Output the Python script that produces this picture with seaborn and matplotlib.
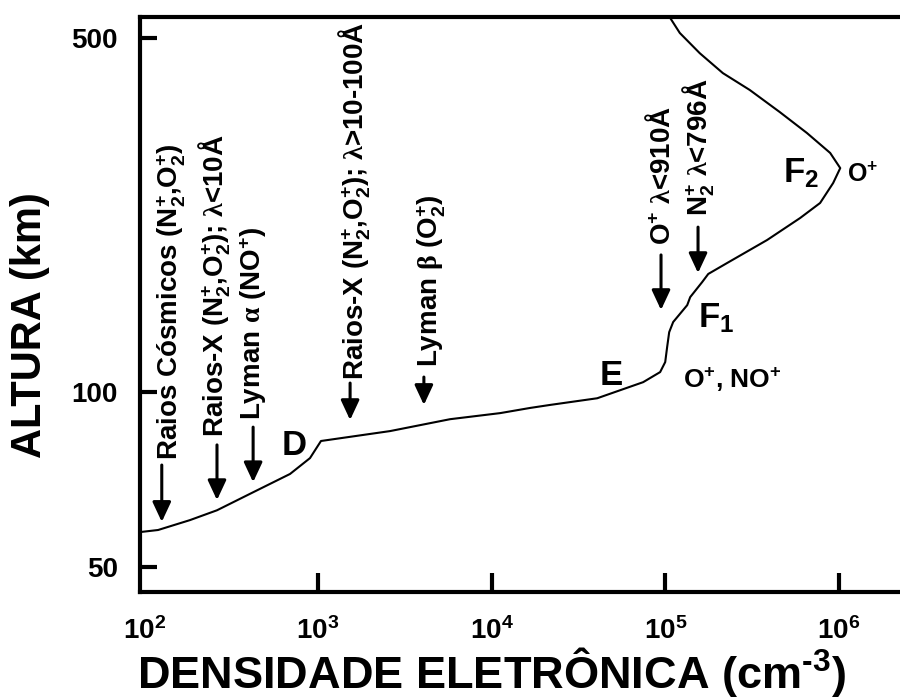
import numpy as np
import matplotlib
matplotlib.use("Agg")
import matplotlib.pyplot as plt
import seaborn as sns

# ---------------- data ----------------
density = [97, 120, 183, 262, 423, 690, 899, 1040, 2600, 5760, 11200, 16630,
           21700, 40500, 74500, 93300, 99800, 102400, 105200, 110900, 133600,
           139000, 162900, 176600, 227000, 385500, 597000, 778000, 925000,
           1016000, 889000, 653000, 456000, 306000, 214300, 157800, 121100, 105900]
altitude = [56.9, 57.3, 59.5, 61.8, 66.3, 71.3, 76.0, 81.5, 84.9, 89.2, 91.5, 93.5,
            94.7, 97.4, 104.3, 108.9, 113.7, 121.4, 129.5, 135.4, 145.9,
            151.2, 161.7, 167.7, 176.2, 195.5, 216.1, 231.5, 253.8,
            271.9, 291.7, 320.1, 352.9, 391.5, 423.8, 465.5, 512.2, 552.0]

x_ticks = [1e2, 1e3, 1e4, 1e5, 1e6]
x_tick_labels = [r"10$^{2}$", r"10$^{3}$", r"10$^{4}$", r"10$^{5}$", r"10$^{6}$"]
y_ticks = [50, 100, 500]
y_tick_labels = ["50", "100", "500"]

# ionising sources: label, text x (centre), text bottom altitude, arrow x, arrow tail, arrow tip
src_labels = [r"Raios Cósmicos ($N_2^{+}$,$O_2^{+}$)",
              r"Raios-X ($N_2^{+}$,$O_2^{+}$); $\mathsf{\lambda}$<10Å",
              r"Lyman $\mathsf{\alpha}$ ($NO^{+}$)",
              r"Raios-X ($N_2^{+}$,$O_2^{+}$); $\mathsf{\lambda}$>10-100Å",
              r"Lyman $\mathsf{\beta}$ ($O_2^{+}$)",
              r"$O^{+}$ $\mathsf{\lambda}$<910Å",
              r"$N_2^{+}$ $\mathsf{\lambda}$<796Å"]
src_text_x = [144, 255, 423, 1630, 4470, 95500, 156000]
src_text_y = [75.4, 82.8, 88.9, 105.2, 111.3, 191.0, 218.1]
src_arrow_x = [126, 262, 423, 1530, 4070, 94400, 154200]
src_arrow_tail = [73.9, 80.2, 86.3, 103.9, 106.6, 182.7, 207.3]
src_arrow_tip = [59.1, 64.3, 69.0, 88.9, 94.7, 142.8, 168.4]

# region labels: text, x (left), baseline altitude, size
reg_labels = ["D", "E", r"$F_1$", r"$F_2$", r"$O^{+}$", r"$O^{+}$, $NO^{+}$"]
reg_x = [621, 42000, 154200, 475000, 1109000, 126200]
reg_y = [76.9, 103.0, 132.4, 255.0, 255.0, 101.7]
reg_size = [25, 25, 25, 25, 18, 19]

# ---------------- style ----------------
sns.set_theme(style="white")
plt.rcParams["font.family"] = ["Liberation Sans", "DejaVu Sans"]
plt.rcParams["font.weight"] = "bold"
plt.rcParams["text.color"] = "black"
plt.rcParams["axes.labelcolor"] = "black"
plt.rcParams["xtick.color"] = "black"
plt.rcParams["ytick.color"] = "black"
plt.rcParams["mathtext.fontset"] = "custom"
plt.rcParams["mathtext.default"] = "regular"
plt.rcParams["mathtext.sf"] = "Liberation Serif"
plt.rcParams["mathtext.rm"] = "Liberation Sans:bold"
plt.rcParams["mathtext.bf"] = "Liberation Sans:bold"

fig = plt.figure(figsize=(9, 6.98), dpi=100)
ax = fig.add_axes([140 / 900, 106 / 698, 760 / 900, 575 / 698])

sns.lineplot(x=density, y=altitude, sort=False, estimator=None, color="black",
             linewidth=1.5, ax=ax)

ax.set_xscale("log")
ax.set_yscale("function", functions=(lambda y: np.log10(np.maximum(np.asarray(y, float) - 12.5, 1e-6)),
                                     lambda v: 10 ** np.asarray(v, float) + 12.5))
ax.set_xlim(10 ** 1.975, 10 ** 6.351)
ax.set_ylim(45.66, 552.5)

ax.set_xticks(x_ticks, labels=x_tick_labels)
ax.set_yticks(y_ticks, labels=y_tick_labels)
ax.minorticks_off()
ax.tick_params(axis="x", which="major", bottom=True, direction="in", length=13.5, width=3,
               pad=18, labelsize=20, color="black", labelcolor="black")
ax.tick_params(axis="y", which="major", left=True, direction="in", length=12.5, width=3,
               pad=16, labelsize=20, color="black", labelcolor="black")
for lab in ax.get_xticklabels() + ax.get_yticklabels():
    lab.set_fontweight("bold")
ax.xaxis.get_major_ticks()[0].tick1line.set_visible(False)

for side in ["left", "top", "bottom"]:
    ax.spines[side].set_linewidth(3)
    ax.spines[side].set_color("black")
ax.spines["right"].set_visible(False)

ax.set_xlabel(r"DENSIDADE ELETRÔNICA (cm$^{\text{-}3}$)", fontsize=32.5, fontweight="bold")
ax.set_ylabel("ALTURA (km)", fontsize=30, fontweight="bold")
ax.xaxis.set_label_coords(0.463, -0.092)
ax.yaxis.set_label_coords(-0.118, 0.464)

for lab, tx, ty, axx, at, ah in zip(src_labels, src_text_x, src_text_y,
                                     src_arrow_x, src_arrow_tail, src_arrow_tip):
    ax.text(tx, ty, lab, rotation=90, ha="center", va="bottom", fontsize=20,
            fontweight="bold", color="black")
    ax.annotate("", xy=(axx, ah), xytext=(axx, at),
                arrowprops=dict(arrowstyle="-|>,head_length=0.6,head_width=0.28",
                                color="black", lw=2.2, shrinkA=0, shrinkB=0,
                                mutation_scale=20))

for lab, rx, ry, rs in zip(reg_labels, reg_x, reg_y, reg_size):
    ax.text(rx, ry, lab, ha="left", va="baseline", fontsize=rs, fontweight="bold",
            color="black")

fig.savefig("out.png", dpi=100, facecolor="white")
